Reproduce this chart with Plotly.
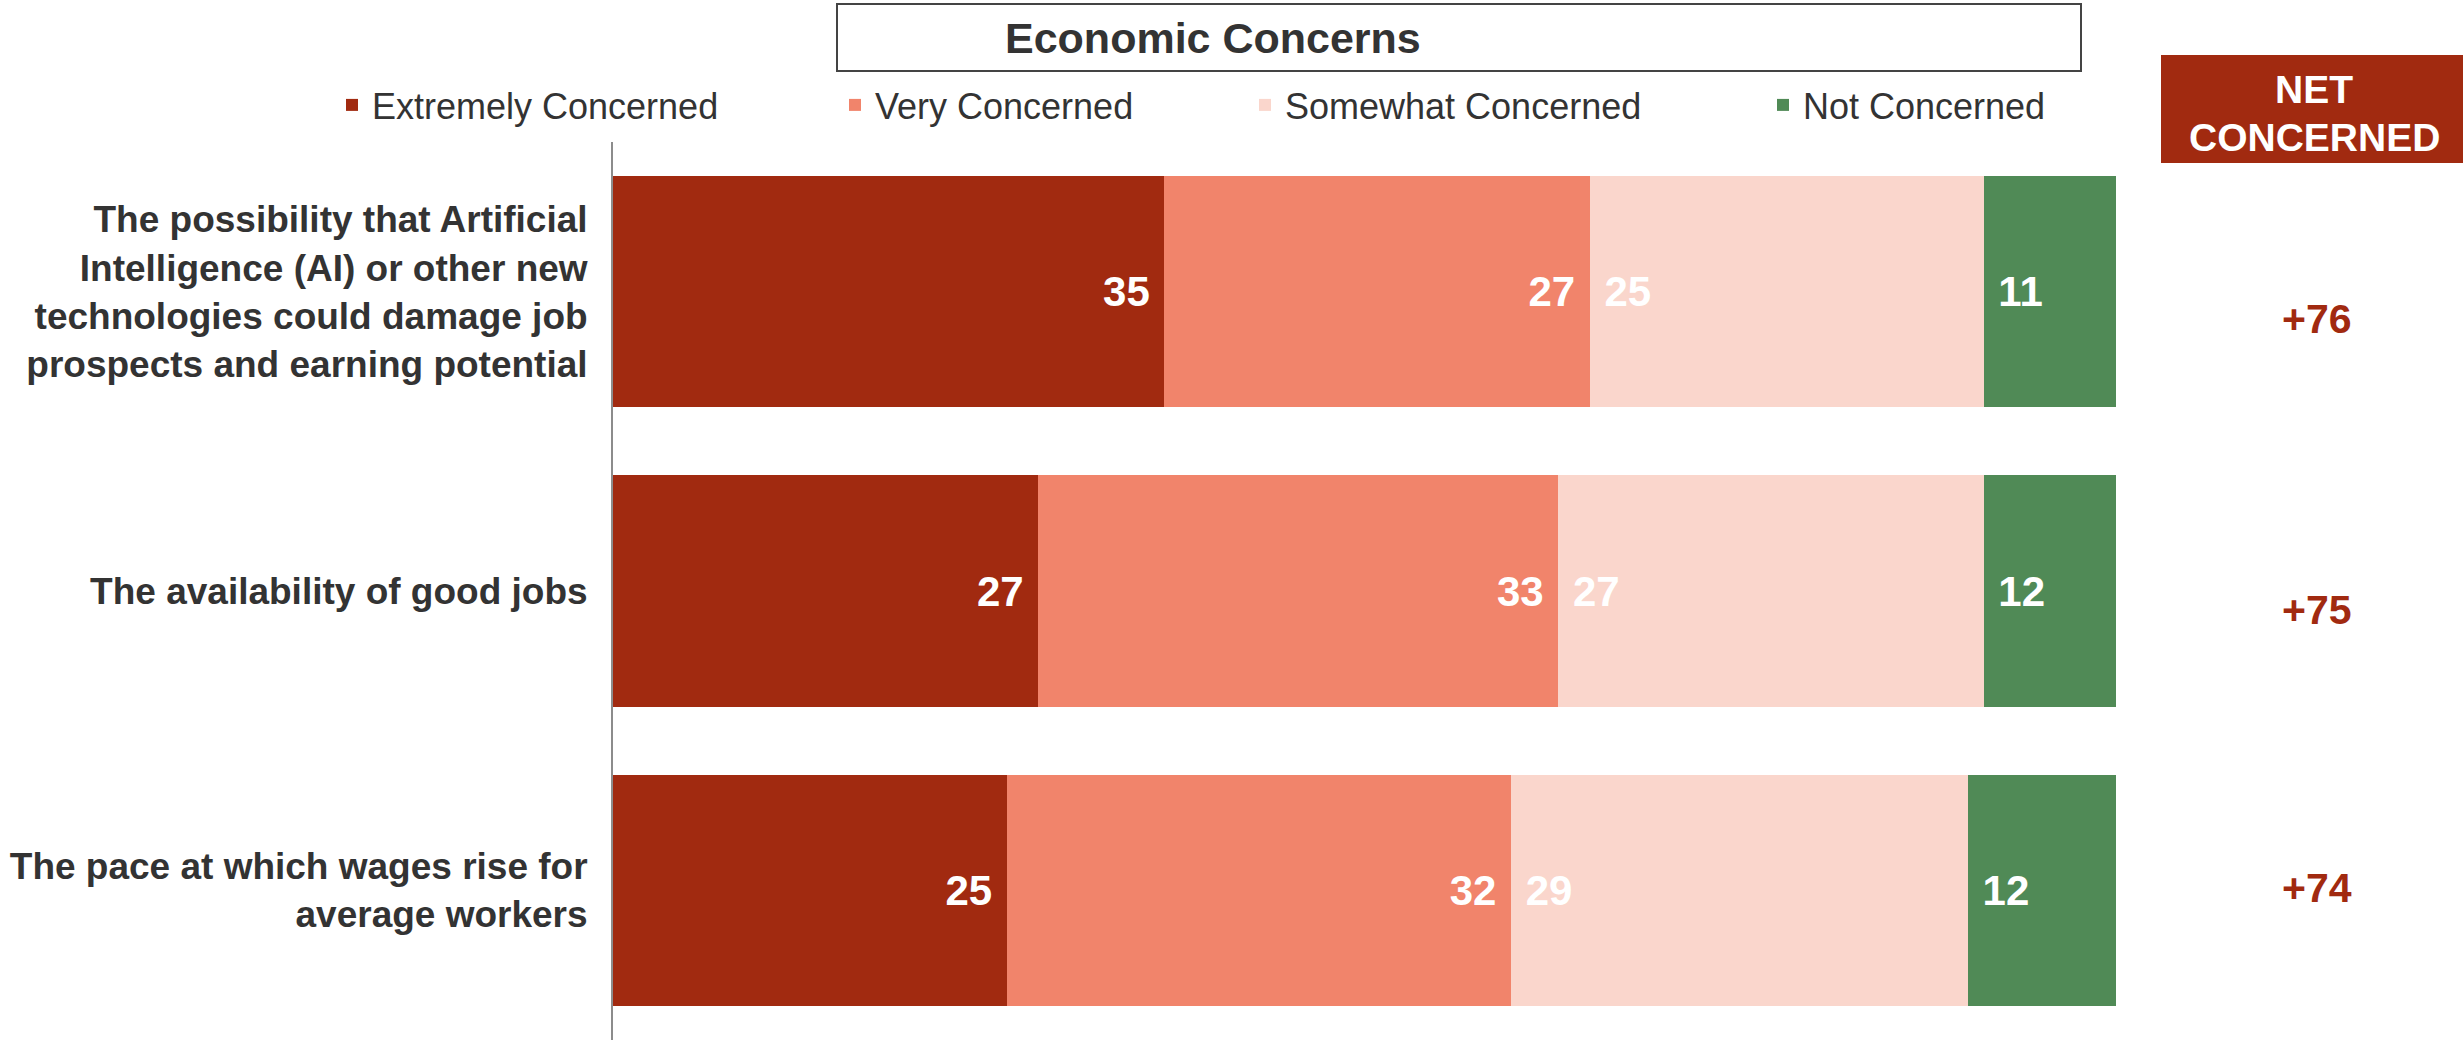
import plotly.graph_objects as go

categories = [
    "The possibility that Artificial<br>Intelligence (AI) or other new<br>technologies could damage job<br>prospects and earning potential",
    "The availability of good jobs",
    "The pace at which wages rise for<br>average workers",
]
series_names = ["Extremely Concerned", "Very Concerned", "Somewhat Concerned", "Not Concerned"]
extremely = [35, 27, 25]
very = [27, 33, 32]
somewhat = [25, 27, 29]
not_concerned = [11, 12, 12]
series_values = [extremely, very, somewhat, not_concerned]
colors = ["#A12A10", "#F1846B", "#FAD6CC", "#508A56"]
net = [e + v + s - n for e, v, s, n in zip(extremely, very, somewhat, not_concerned)]
net_yshift = [-27, -19, 2]

FONT = "Arial, Liberation Sans, sans-serif"
W, H = 2463, 1040
ML, MR, MT, MB = 613, 347, 142, 0
PW, PH = W - ML - MR, H - MT - MB

def px_x(px):
    return (px - ML) / PW

def px_y(py):
    return (H - MB - py) / PH

NB = "\u00a0"
fig = go.Figure()
legend_ids = ["legend", "legend2", "legend3", "legend4"]
anchors = ["end", "end", "start", "start"]
for i, (name, vals, col) in enumerate(zip(series_names, series_values, colors)):
    tmpl = "%{x}" + NB if anchors[i] == "end" else NB + "%{x}"
    fig.add_trace(go.Bar(
        y=categories, x=vals, name=name, orientation="h",
        marker=dict(color=col, line=dict(width=0)),
        text=vals, texttemplate=tmpl, textposition="inside",
        insidetextanchor=anchors[i],
        insidetextfont=dict(family=FONT, size=42, color="white", weight="bold"),
        legend=legend_ids[i], showlegend=True,
    ))

legend_px = [332, 835, 1245, 1763]
layout_legends = {}
for lid, lx in zip(legend_ids, legend_px):
    layout_legends[lid] = dict(
        x=px_x(lx), y=px_y(105), xanchor="left", yanchor="middle",
        orientation="h", bgcolor="rgba(0,0,0,0)", borderwidth=0,
        font=dict(family=FONT, size=36, color="#333333"),
    )

annotations = []
annotations.append(dict(
    x=px_x(1213), y=px_y(38), xref="paper", yref="paper", text="<b>Economic Concerns</b>",
    showarrow=False, xanchor="center", yanchor="middle",
    font=dict(family=FONT, size=43, color="#333333"),
))
annotations.append(dict(
    x=px_x(2314), y=px_y(90), xref="paper", yref="paper", text="<b>NET</b>",
    showarrow=False, xanchor="center", yanchor="middle",
    font=dict(family=FONT, size=39, color="white"),
))
annotations.append(dict(
    x=px_x(2314), y=px_y(137), xref="paper", yref="paper", text="<b>CONCERNED</b>",
    showarrow=False, xanchor="center", yanchor="middle",
    font=dict(family=FONT, size=39, color="white"),
))
for cat, v, ys in zip(categories, net, net_yshift):
    annotations.append(dict(
        x=px_x(2317), y=cat, xref="paper", yref="y", text="<b>+%d</b>" % v,
        showarrow=False, xanchor="center", yanchor="middle", yshift=ys,
        font=dict(family=FONT, size=41, color="#A12A10"),
    ))

shapes = [
    dict(type="rect", xref="paper", yref="paper",
         x0=px_x(837), x1=px_x(2081), y0=px_y(71), y1=px_y(4),
         line=dict(color="#444444", width=2), fillcolor="white", layer="below"),
    dict(type="rect", xref="paper", yref="paper",
         x0=px_x(2161), x1=px_x(2470), y0=px_y(163), y1=px_y(55),
         line=dict(width=0), fillcolor="#A12A10", layer="below"),
]

fig.update_layout(
    width=W, height=H,
    margin=dict(l=ML, r=MR, t=MT, b=MB, pad=0),
    barmode="stack", bargap=0.227,
    plot_bgcolor="white", paper_bgcolor="white",
    font=dict(family=FONT, color="#333333"),
    xaxis=dict(range=[0, 95.4], visible=False, fixedrange=True),
    yaxis=dict(
        autorange=False, range=[2.5, -0.5], showline=True, linecolor="#8C8C8C", linewidth=2,
        showgrid=False, zeroline=False, ticks="", ticklabelstandoff=16,
        tickfont=dict(family=FONT, size=37, color="#333333", weight="bold"),
    ),
    annotations=annotations, shapes=shapes,
    **layout_legends,
)
fig.write_html(
    "out.html",
    config={"displayModeBar": False},
    post_script="document.body.style.margin='0px';document.body.style.overflow='hidden';",
)
